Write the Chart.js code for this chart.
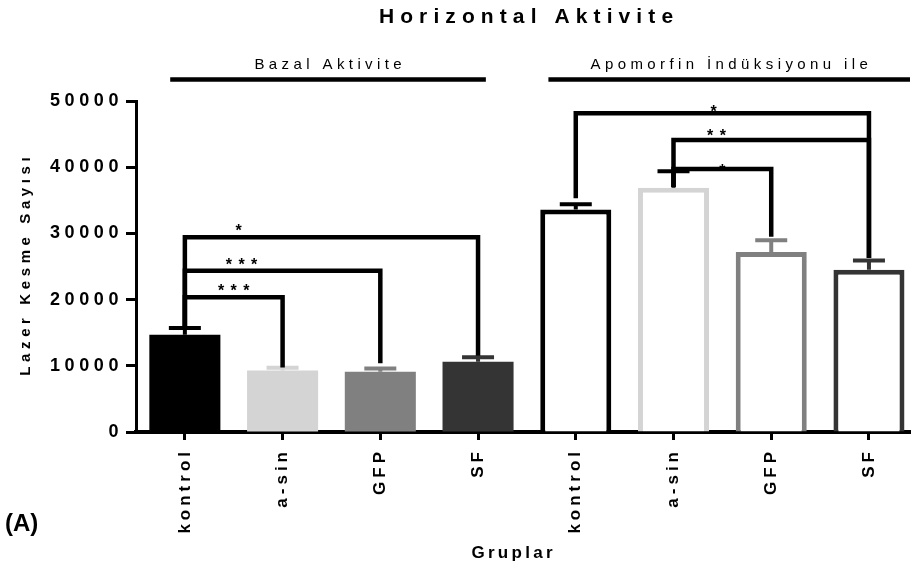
<!DOCTYPE html>
<html>
<head>
<meta charset="utf-8">
<script src="https://cdn.jsdelivr.net/npm/chart.js@4/dist/chart.umd.min.js"></script>
<style>
  html, body { margin: 0; padding: 0; background: #fff; overflow: hidden; }
  #wrap { width: 912px; height: 573px; }
</style>
</head>
<body>
<div id="wrap"><canvas id="chart" width="912" height="573"></canvas></div>
<script>
// ---- data ----
const categories = ['kontrol', 'a-sin', 'GFP', 'SF', 'kontrol', 'a-sin', 'GFP', 'SF'];
const means      = [14700, 9300, 9100, 10600, 33600, 36900, 27200, 24500];
const sems       = [1000, 400, 500, 700, 800, 2500, 1750, 1400];
const yTicks     = [0, 10000, 20000, 30000, 40000, 50000];
const groupNames = ['Bazal Aktivite', 'Apomorfin İndüksiyonu ile'];

// significance comparisons: bar a, bar b, bracket level, leg end at a, leg end at b, stars
const compA      = [0, 0, 0, 4, 5, 5];
const compB      = [1, 2, 3, 7, 7, 6];
const compLevel  = [20350, 24370, 29410, 48140, 44100, 39730];
const compEndA   = [15700, 15700, 15700, 35300, 37000, 37000];
const compEndB   = [9750, 10400, 11500, 26300, 26300, 29500];
const compStars  = ['* * *', '* * *', '*', '*', '* *', '*'];

// ---- layout / style ----
const starX      = [0.50, 0.58, 0.55, 5.41, 5.44, 5.50];   // star centre, in bar-index units
const starDrop   = [-1, -1, -1, 4, 1, 7];                   // baseline offset from bracket, px
const groupSpan  = [[-0.15, 3.08], [3.72, 7.42]];          // header rule extent, bar-index units
const headerValue = 53250;                                  // header rule height, axis units
const tone = ['#000000', '#d4d4d4', '#808080', '#343434'];
const toneOf = i => tone[i % 4];
const errTone = means.map((_, i) => (i === 5 ? '#000000' : toneOf(i)));
const FONT = '"Liberation Sans", Arial, sans-serif';

function spaced(ctx, text, x, y, opts) {
  ctx.save();
  ctx.font = opts.font;
  ctx.fillStyle = opts.color || '#000';
  ctx.letterSpacing = (opts.ls || 0) + 'px';
  ctx.textAlign = opts.align || 'center';
  ctx.textBaseline = opts.baseline || 'middle';
  ctx.translate(x, y);
  if (opts.rotate) ctx.rotate(opts.rotate);
  // trailing spacing is added after the last glyph; shift back so the ink is centred
  const shift = (opts.align || 'center') === 'center' ? (opts.ls || 0) / 2 : 0;
  ctx.fillText(text, shift, 0);
  ctx.restore();
}

const tickSpacing = { x: 4, y: 4.6 };

const decorations = {
  id: 'decorations',
  beforeDraw(chart) {
    // per-axis letter spacing for tick labels
    Object.values(chart.scales).forEach(scale => {
      if (scale._spacedPatch) return;
      const orig = scale.drawLabels;
      scale.drawLabels = function (area) {
        const c = this.ctx;
        c.save();
        c.letterSpacing = (tickSpacing[this.axis] || 0) + 'px';
        orig.call(this, area);
        c.restore();
      };
      scale._spacedPatch = true;
    });
  },
  afterDatasetsDraw(chart) {
    const { ctx, scales: { x, y } } = chart;
    // error bars (upper whisker only)
    ctx.save();
    ctx.lineWidth = 4;
    ctx.lineCap = 'butt';
    means.forEach((m, i) => {
      const px = x.getPixelForValue(i);
      const top = y.getPixelForValue(m);
      const cap = y.getPixelForValue(m + sems[i]);
      ctx.strokeStyle = errTone[i];
      ctx.beginPath();
      ctx.moveTo(px, top);
      ctx.lineTo(px, cap);
      ctx.moveTo(px - 16, cap);
      ctx.lineTo(px + 16, cap);
      ctx.stroke();
    });
    ctx.restore();
  },
  afterDraw(chart) {
    const { ctx, chartArea, scales: { x, y } } = chart;

    // significance brackets
    ctx.save();
    ctx.strokeStyle = '#000';
    ctx.lineWidth = 4.5;
    ctx.lineJoin = 'miter';
    compA.forEach((a, k) => {
      const xa = x.getPixelForValue(a), xb = x.getPixelForValue(compB[k]);
      const yl = y.getPixelForValue(compLevel[k]);
      ctx.beginPath();
      ctx.moveTo(xa, y.getPixelForValue(compEndA[k]));
      ctx.lineTo(xa, yl);
      ctx.lineTo(xb, yl);
      ctx.lineTo(xb, y.getPixelForValue(compEndB[k]));
      ctx.stroke();
      spaced(ctx, compStars[k], x.getPixelForValue(starX[k]), yl + starDrop[k],
        { font: 'bold 16px ' + FONT, ls: 1, baseline: 'alphabetic' });
    });
    ctx.restore();

    // group header rules and names
    ctx.save();
    ctx.strokeStyle = '#000';
    ctx.lineWidth = 4.5;
    const hy = y.getPixelForValue(headerValue);
    groupSpan.forEach((s, g) => {
      const x0 = x.getPixelForValue(s[0]), x1 = x.getPixelForValue(s[1]);
      ctx.beginPath();
      ctx.moveTo(x0, hy);
      ctx.lineTo(x1, hy);
      ctx.stroke();
      spaced(ctx, groupNames[g], (x0 + x1) / 2, hy - 7,
        { font: '15px ' + FONT, ls: 4.4, baseline: 'bottom' });
    });
    ctx.restore();

    // title
    spaced(ctx, 'Horizontal Aktivite', (chartArea.left + chartArea.right) / 2 + 3, 17,
      { font: 'bold 21px ' + FONT, ls: 6.1 });
    // axis titles
    spaced(ctx, 'Lazer Kesme Sayısı', 26, (chartArea.top + chartArea.bottom) / 2,
      { font: 'bold 15px ' + FONT, ls: 4.6, rotate: -Math.PI / 2 });
    spaced(ctx, 'Gruplar', 512, 553,
      { font: 'bold 17px ' + FONT, ls: 3.3 });
    // panel letter
    spaced(ctx, '(A)', 5, 531,
      { font: 'bold 24px ' + FONT, ls: 0, align: 'left', baseline: 'alphabetic' });
  }
};

const axisFont = { family: FONT, weight: 'bold', size: 17 };

new Chart(document.getElementById('chart'), {
  type: 'bar',
  data: {
    datasets: [{
      data: means.map((v, i) => ({ x: i, y: v })),
      backgroundColor: means.map((_, i) => (i < 4 ? toneOf(i) : '#ffffff')),
      borderColor: means.map((_, i) => toneOf(i)),
      borderWidth: means.map((_, i) => (i < 4 ? 0 : 5)),
      borderSkipped: 'start',
      barPercentage: 0.727,
      categoryPercentage: 1
    }]
  },
  options: {
    responsive: false,
    animation: false,
    devicePixelRatio: 1,
    layout: { padding: { top: 101, right: 2, left: 0, bottom: 0 } },
    plugins: { legend: { display: false }, tooltip: { enabled: false }, title: { display: false } },
    scales: {
      x: {
        type: 'linear',
        min: -0.5,
        max: 7.42,
        offset: false,
        afterBuildTicks: s => { s.ticks = categories.map((_, i) => ({ value: i })); },
        afterFit: s => { s.height = 141; },
        ticks: {
          autoSkip: false,
          minRotation: 90,
          maxRotation: 90,
          padding: 8,
          color: '#000',
          font: axisFont,
          callback: v => categories[v]
        },
        grid: { offset: false, drawOnChartArea: false, drawTicks: true, tickLength: 8, tickWidth: 3, color: '#000' },
        border: { display: true, width: 4, color: '#000' }
      },
      y: {
        min: 0,
        max: 50000,
        afterBuildTicks: s => { s.ticks = yTicks.map(v => ({ value: v })); },
        afterFit: s => { s.width = 136; },
        ticks: { padding: 3, color: '#000', font: { family: FONT, weight: 'bold', size: 18 }, callback: v => String(v) },
        grid: { drawOnChartArea: false, drawTicks: true, tickLength: 10, tickWidth: 3, color: '#000' },
        border: { display: true, width: 3, color: '#000' }
      }
    }
  },
  plugins: [decorations]
});
</script>
</body>
</html>
